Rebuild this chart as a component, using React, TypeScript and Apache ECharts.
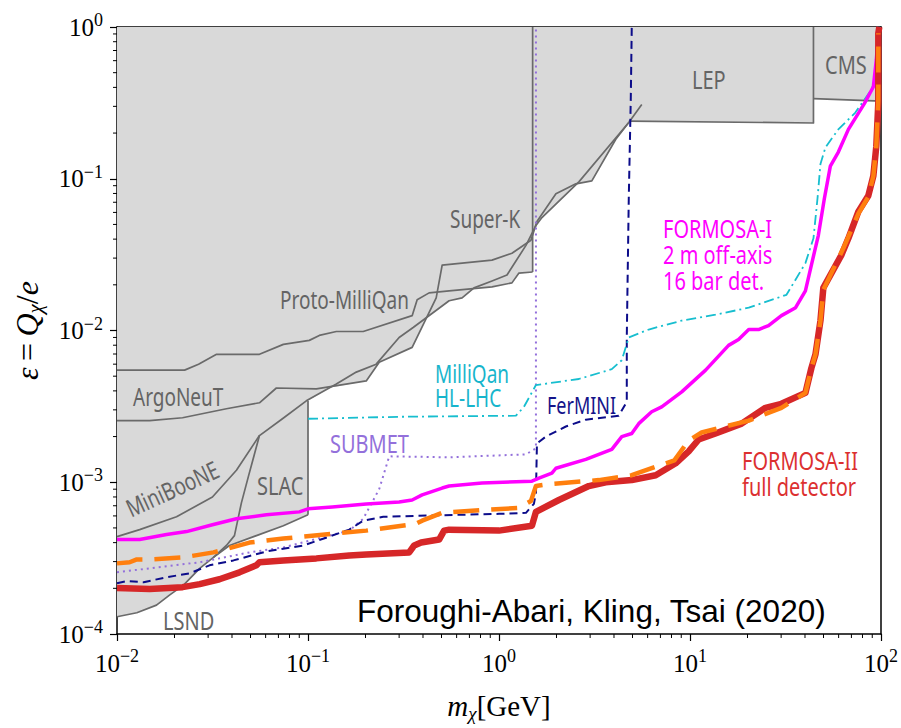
import React, { useEffect, useRef } from "react";
import * as echarts from "echarts";

// ---- data (mass m_chi in GeV, epsilon) ----
const LSND_M = [0.01, 0.0127, 0.0161, 0.0189, 0.0223, 0.0271, 0.032, 0.0388, 0.0537, 0.0743, 0.1];
const LSND_E = [1.3e-4, 1.38e-4, 1.55e-4, 1.81e-4, 2.1e-4, 2.71e-4, 3.2e-4, 3.83e-4, 4.45e-4, 5.17e-4, 6.1e-4];

const SLAC_LEFT_M = [0.032, 0.0374, 0.0412, 0.0448, 0.0488, 0.0557];
const SLAC_LEFT_E = [3.2e-4, 3.83e-4, 4.45e-4, 7.31e-4, 1.097e-3, 2.03e-3];
const SLAC_RIGHT_M = [0.1, 0.1];
const SLAC_RIGHT_E = [6.1e-4, 3.44e-3];

const MINIBOONE_M = [0.01, 0.01314, 0.0205, 0.0316, 0.0422, 0.0557, 0.0735, 0.098, 0.1407, 0.179, 0.2276, 0.3, 0.3553, 0.548, 0.641, 0.74, 0.919, 1.101, 1.384, 1.561, 1.678, 2.619, 4.78];
const MINIBOONE_E = [4.385e-4, 4.87e-4, 5.92e-4, 8.0e-4, 1.2e-3, 2.03e-3, 2.62e-3, 3.44e-3, 4.44e-3, 5.32e-3, 6.0e-3, 9.0e-3, 1.046e-2, 1.57e-2, 1.64e-2, 1.91e-2, 2.12e-2, 2.32e-2, 3.64e-2, 4.92e-2, 5.55e-2, 9.54e-2, 0.235];

const ARGONEUT_M = [0.01, 0.01482, 0.02204, 0.0374, 0.0557, 0.0683, 0.1106, 0.2018, 0.236, 0.351, 0.469, 0.504, 0.919, 1.169, 1.47, 1.58, 1.986, 2.526, 3.062, 4.088, 4.78, 5.59];
const ARGONEUT_E = [2.55e-3, 2.55e-3, 2.66e-3, 3.05e-3, 3.34e-3, 4.18e-3, 4.12e-3, 4.65e-3, 6.18e-3, 7.74e-3, 1.64e-2, 2.7e-2, 2.91e-2, 3.23e-2, 3.93e-2, 5.23e-2, 7.96e-2, 9.26e-2, 9.68e-2, 0.182, 0.235, 0.308];

const PROTO_M = [0.01, 0.02259, 0.02673, 0.0332, 0.0557, 0.0743, 0.1016, 0.1146, 0.1407, 0.1946, 0.351, 0.3728, 0.4306, 0.548, 0.919, 1.169, 1.272, 1.5];
const PROTO_E = [5.48e-3, 5.48e-3, 6.0e-3, 6.97e-3, 6.97e-3, 8.1e-3, 8.61e-3, 9.28e-3, 9.85e-3, 9.85e-3, 1.253e-2, 1.594e-2, 1.77e-2, 1.825e-2, 1.94e-2, 2.06e-2, 2.39e-2, 2.43e-2];

const SUPERK_M = [1.5, 1.5];
const SUPERK_E = [2.43e-2, 1.0];

const LEP_M = [4.78, 44.3, 44.3];
const LEP_E = [0.24, 0.233, 1.0];

const CMS_M = [44.3, 100];
const CMS_E = [0.337, 0.325];

// lower edge of the excluded (grey) region
const EXCL_M = [0.01, 0.0127, 0.0161, 0.0189, 0.0223, 0.0271, 0.032, 0.0388, 0.0537, 0.0743, 0.1, 0.1, 0.13, 0.2018, 0.236, 0.351, 0.4155, 0.548, 0.641, 0.74, 0.919, 1.169, 1.272, 1.5, 1.5, 1.561, 1.678, 2.466, 2.526, 3.062, 4.088, 4.78, 44.3, 44.3, 100];
const EXCL_E = [1.3e-4, 1.38e-4, 1.55e-4, 1.81e-4, 2.1e-4, 2.71e-4, 3.2e-4, 3.83e-4, 4.45e-4, 5.17e-4, 6.1e-4, 3.44e-3, 4.2e-3, 4.65e-3, 6.18e-3, 7.74e-3, 1.216e-2, 1.57e-2, 1.64e-2, 1.91e-2, 1.94e-2, 2.06e-2, 2.39e-2, 2.43e-2, 4.3e-2, 4.92e-2, 5.55e-2, 8.85e-2, 9.26e-2, 9.68e-2, 0.182, 0.24, 0.233, 0.337, 0.325];

const MILLIQAN_M = [0.1, 0.3, 1.227, 1.351, 1.561, 2.619, 3.895, 4.394, 4.78, 6.08, 9.05, 11.1, 13.6, 20.3, 32.0, 40.2, 44.3, 46.5, 48.2, 51.2, 59.8, 73.4, 89.0, 96.8];
const MILLIQAN_E = [2.62e-3, 2.7e-3, 2.745e-3, 3.14e-3, 4.37e-3, 4.79e-3, 5.56e-3, 6.37e-3, 9.0e-3, 1.015e-2, 1.162e-2, 1.216e-2, 1.272e-2, 1.413e-2, 1.718e-2, 2.78e-2, 4.05e-2, 7.39e-2, 0.125, 0.161, 0.2116, 0.273, 0.386, 0.506];

const SUBMET_M = [0.01, 0.01482, 0.0271, 0.0494, 0.0743, 0.1293, 0.1644, 0.1946, 0.236, 0.2662, 0.548, 1.384, 1.561, 1.561];
const SUBMET_E = [2.55e-4, 2.71e-4, 2.97e-4, 3.45e-4, 3.72e-4, 4.45e-4, 4.8e-4, 5.75e-4, 9.02e-4, 1.482e-3, 1.46e-3, 1.527e-3, 1.671e-3, 1.0];

const FERMINI_M = [0.01, 0.01124, 0.01379, 0.01819, 0.02399, 0.03052, 0.0407, 0.0606, 0.0946, 0.1293, 0.1644, 0.1946, 0.2476, 0.3684, 1.0, 1.384, 1.523, 1.561, 1.58, 1.76, 2.239, 2.849, 4.237, 4.667, 4.667, 4.78, 4.896, 4.955];
const FERMINI_E = [2.163e-4, 2.23e-4, 2.195e-4, 2.366e-4, 2.51e-4, 2.835e-4, 3.055e-4, 3.5e-4, 3.83e-4, 4.385e-4, 4.87e-4, 5.58e-4, 5.92e-4, 6.01e-4, 6.19e-4, 6.29e-4, 7.2e-4, 8.49e-4, 1.8e-3, 2.0e-3, 2.33e-3, 2.585e-3, 2.745e-3, 3.39e-3, 9.0e-3, 7.39e-2, 0.332, 1.0];

const FORMOSA1_M = [0.01, 0.01314, 0.01819, 0.02313, 0.0316, 0.0422, 0.0606, 0.0901, 0.1, 0.134, 0.2018, 0.3, 0.351, 0.396, 0.504, 0.548, 0.815, 1.488, 1.618, 1.892, 1.986, 2.849, 3.895, 4.394, 4.955, 5.39, 6.3, 7.11, 9.05, 12.07, 15.92, 17.96, 20.3, 22.85, 25.77, 30.1, 35.7, 40.2, 43.2, 47.0, 50.5, 54.3, 59.8, 67.5, 81.8, 91.2, 94.5, 96.8, 97.5];
const FORMOSA1_E = [4.19e-4, 4.19e-4, 4.52e-4, 4.73e-4, 5.25e-4, 5.75e-4, 6.1e-4, 6.38e-4, 6.68e-4, 6.88e-4, 7.2e-4, 7.42e-4, 7.64e-4, 8.25e-4, 9.16e-4, 9.44e-4, 9.87e-4, 1.017e-3, 1.064e-3, 1.147e-3, 1.237e-3, 1.416e-3, 1.646e-3, 2.0e-3, 2.094e-3, 2.433e-3, 2.915e-3, 3.14e-3, 3.94e-3, 5.48e-3, 7.98e-3, 8.73e-3, 1.015e-2, 1.015e-2, 1.078e-2, 1.253e-2, 1.413e-2, 1.825e-2, 2.7e-2, 4.24e-2, 7.39e-2, 0.121, 0.15, 0.2116, 0.313, 0.404, 0.606, 0.91, 1.0];

const FORMOSA2_M = [0.01, 0.01482, 0.02204, 0.0271, 0.0344, 0.0438, 0.0537, 0.0557, 0.0743, 0.1106, 0.1644, 0.2018, 0.3386, 0.3596, 0.3912, 0.4858, 0.516, 0.548, 1.0, 1.488, 1.561, 2.059, 2.953, 3.624, 4.955, 6.614, 8.414, 9.84, 11.1, 13.6, 18.62, 24.85, 30.1, 40.2, 43.2, 45.4, 48.2, 49.9, 62.0, 67.5, 76.1, 85.8, 91.2, 94.5, 96.8, 96.8, 98.0];
const FORMOSA2_E = [2.006e-4, 1.976e-4, 2.036e-4, 2.13e-4, 2.296e-4, 2.55e-4, 2.835e-4, 2.97e-4, 3.055e-4, 3.15e-4, 3.295e-4, 3.345e-4, 3.45e-4, 3.83e-4, 4.005e-4, 4.19e-4, 4.8e-4, 4.87e-4, 4.8e-4, 5.17e-4, 6.38e-4, 7.64e-4, 9.44e-4, 1.0e-3, 1.033e-3, 1.113e-3, 1.334e-3, 1.597e-3, 1.913e-3, 2.094e-3, 2.433e-3, 3.095e-3, 3.288e-3, 3.88e-3, 5.65e-3, 6.97e-3, 1.162e-2, 1.91e-2, 3.135e-2, 4.05e-2, 6.07e-2, 7.73e-2, 0.1044, 0.1638, 0.3177, 0.91, 1.0];

const FORMOSA2_ALT_M = [0.01, 0.01165, 0.0127, 0.01482, 0.0223, 0.032, 0.0494, 0.0743, 0.1357, 0.2018, 0.3684, 0.396, 0.504, 0.855, 1.272, 1.47, 1.561, 1.825, 3.33, 4.955, 8.28, 9.84, 11.5, 20.3, 30.1, 40.2, 43.2, 45.4, 48.2, 49.9, 63.5, 76.1, 85.8, 91.2, 94.5, 96.8, 96.8];
const FORMOSA2_ALT_E = [2.92e-4, 2.97e-4, 3.1e-4, 3.1e-4, 3.2e-4, 3.45e-4, 4.005e-4, 4.255e-4, 4.585e-4, 4.8e-4, 5.33e-4, 5.58e-4, 6.29e-4, 6.58e-4, 6.78e-4, 7.53e-4, 9.44e-4, 9.72e-4, 1.033e-3, 1.113e-3, 1.395e-3, 1.885e-3, 2.126e-3, 2.55e-3, 3.095e-3, 3.88e-3, 5.65e-3, 6.97e-3, 1.162e-2, 1.853e-2, 3.48e-2, 5.89e-2, 7.61e-2, 0.1044, 0.1638, 0.332, 0.91];

const X_MIN = 0.01, X_MAX = 100, Y_MIN = 1e-4, Y_MAX = 1;

const zip = (m: number[], e: number[]) => m.map((v, i) => [v, e[i]]);

const GREY_LINE = "#6a6a6a";
const GREY_FILL = "#d9d9d9";
const GREY_TEXT = "#646464";

function line(name: string, m: number[], e: number[], color: string, width: number, type: any, z = 3): any {
  return {
    name,
    type: "line",
    data: zip(m, e),
    symbol: "none",
    silent: true,
    z,
    lineStyle: { color, width, type, cap: "butt", join: "round" },
  };
}

function minorValues(lo: number, hi: number) {
  const out: number[] = [];
  for (let d = lo; d < hi; d++) {
    for (let k = 2; k <= 9; k++) out.push(k * Math.pow(10, d));
  }
  return out;
}

const supLabel = (v: number) => {
  const p = Math.round(Math.log10(v));
  const s = p < 0 ? "\u2212" + -p : String(p);
  return `{b|10}{e|${s}}`;
};

const tickRich = {
  b: { fontFamily: "Liberation Serif", fontSize: 25, color: "#000", lineHeight: 32 },
  e: { fontFamily: "Liberation Serif", fontSize: 18, color: "#000", lineHeight: 18, verticalAlign: "top" },
};

function label(text: string, x: number, y: number, fill: string, fontSize = 19, extra: any = {}) {
  return {
    type: "text",
    x,
    y,
    scaleY: 1.3,
    z: 100,
    silent: true,
    style: {
      text,
      fill,
      fontSize,
      fontFamily: "Noto Sans",
      align: "left",
      verticalAlign: "middle",
    },
    ...extra,
  };
}

export default function App() {
  const ref = useRef<HTMLDivElement>(null);
  useEffect(() => {
    const chart = echarts.init(ref.current!, null, { renderer: "svg" });
    const minorX = minorValues(-2, 2);
    const minorY = minorValues(-4, 0);
    const option: any = {
      animation: false,
      backgroundColor: "#fff",
      grid: { left: 117, top: 27, width: 766, height: 612, show: false },
      xAxis: [
        {
          type: "log",
          logBase: 10,
          min: X_MIN,
          max: X_MAX,
          position: "bottom",
          axisLine: { show: true, lineStyle: { color: "#000", width: 1.5 } },
          axisTick: { show: true, inside: false, length: 7, lineStyle: { color: "#000", width: 1.2 } },
          minorTick: { show: false },
          splitLine: { show: false },
          axisLabel: { formatter: supLabel, margin: 13, rich: tickRich },
          name: "{g|m}{s|\u03c7}{n|[GeV]}",
          nameLocation: "middle",
          nameGap: 55,
          nameTextStyle: {
            rich: {
              g: { fontFamily: "Liberation Serif", fontStyle: "italic", fontSize: 29, color: "#000", lineHeight: 34 },
              s: { fontFamily: "Liberation Serif", fontStyle: "italic", fontSize: 19, color: "#000", lineHeight: 20, verticalAlign: "bottom" },
              n: { fontFamily: "Liberation Serif", fontSize: 29, color: "#000", lineHeight: 34 },
            },
          },
        },
        {
          type: "log",
          min: X_MIN,
          max: X_MAX,
          position: "top",
          axisLine: { show: true, lineStyle: { color: "#000", width: 1.5 } },
          axisTick: { show: false },
          axisLabel: { show: false },
          splitLine: { show: false },
        },
      ],
      yAxis: [
        {
          type: "log",
          logBase: 10,
          min: Y_MIN,
          max: Y_MAX,
          position: "left",
          axisLine: { show: true, lineStyle: { color: "#000", width: 1.5 } },
          axisTick: { show: true, inside: false, length: 7, lineStyle: { color: "#000", width: 1.2 } },
          minorTick: { show: false },
          splitLine: { show: false },
          axisLabel: { formatter: supLabel, margin: 14, rich: tickRich },
          name: "{g|\u03b5}{n|\u2009=\u2009}{g|Q}{s|\u03c7}{n|/}{g|e}",
          nameLocation: "middle",
          nameRotate: 90,
          nameGap: 72,
          nameTextStyle: {
            rich: {
              g: { fontFamily: "Liberation Serif", fontStyle: "italic", fontSize: 32, color: "#000", lineHeight: 36 },
              s: { fontFamily: "Liberation Serif", fontStyle: "italic", fontSize: 21, color: "#000", lineHeight: 22, verticalAlign: "bottom" },
              n: { fontFamily: "Liberation Serif", fontSize: 32, color: "#000", lineHeight: 36 },
            },
          },
        },
        {
          type: "log",
          min: Y_MIN,
          max: Y_MAX,
          position: "right",
          axisLine: { show: true, lineStyle: { color: "#000", width: 1.5 } },
          axisTick: { show: false },
          axisLabel: { show: false },
          splitLine: { show: false },
        },
      ],
      series: [
        {
          name: "excluded",
          type: "line",
          data: zip(EXCL_M, EXCL_E),
          symbol: "none",
          silent: true,
          z: 1,
          lineStyle: { width: 0, opacity: 0 },
          areaStyle: { origin: "end", color: GREY_FILL, opacity: 1 },
        },
        line("LSND", LSND_M, LSND_E, GREY_LINE, 1.7, "solid", 2),
        line("SLAC", SLAC_LEFT_M, SLAC_LEFT_E, GREY_LINE, 1.7, "solid", 2),
        line("SLAC edge", SLAC_RIGHT_M, SLAC_RIGHT_E, GREY_LINE, 1.7, "solid", 2),
        line("MiniBooNE", MINIBOONE_M, MINIBOONE_E, GREY_LINE, 1.7, "solid", 2),
        line("ArgoNeuT", ARGONEUT_M, ARGONEUT_E, GREY_LINE, 1.7, "solid", 2),
        line("Proto-MilliQan", PROTO_M, PROTO_E, GREY_LINE, 1.7, "solid", 2),
        line("Super-K", SUPERK_M, SUPERK_E, GREY_LINE, 1.7, "solid", 2),
        line("LEP", LEP_M, LEP_E, GREY_LINE, 1.7, "solid", 2),
        line("CMS", CMS_M, CMS_E, GREY_LINE, 1.7, "solid", 2),
        line("SUBMET", SUBMET_M, SUBMET_E, "#9370db", 2, [2, 4], 3),
        line("FerMINI", FERMINI_M, FERMINI_E, "#0c0c8a", 2, [8, 5], 3),
        line("MilliQan HL-LHC", MILLIQAN_M, MILLIQAN_E, "#17becf", 1.8, [10, 4, 2, 4], 3),
        line("FORMOSA-I", FORMOSA1_M, FORMOSA1_E, "#ff00ff", 3.5, "solid", 4),
        line("FORMOSA-II", FORMOSA2_M, FORMOSA2_E, "#d62728", 6.5, "solid", 5),
        line("FORMOSA-II alt", FORMOSA2_ALT_M, FORMOSA2_ALT_E, "#ff7f0e", 4.5, [26, 12], 6),
        {
          type: "custom",
          silent: true,
          clip: false,
          z: 10,
          data: minorX.map((v) => [v, Y_MIN]),
          renderItem: (_p: any, api: any) => {
            const pt = api.coord([api.value(0), Y_MIN]);
            return {
              type: "line",
              shape: { x1: pt[0], y1: pt[1], x2: pt[0], y2: pt[1] + 4 },
              style: { stroke: "#000", lineWidth: 1 },
            };
          },
        },
        {
          type: "custom",
          silent: true,
          clip: false,
          z: 10,
          data: minorY.map((v) => [X_MIN, v]),
          renderItem: (_p: any, api: any) => {
            const pt = api.coord([X_MIN, api.value(1)]);
            return {
              type: "line",
              shape: { x1: pt[0] - 4, y1: pt[1], x2: pt[0], y2: pt[1] },
              style: { stroke: "#000", lineWidth: 1 },
            };
          },
        },
      ],
      graphic: [
        label("Proto-MilliQan", 280, 299, GREY_TEXT),
        label("ArgoNeuT", 133, 396, GREY_TEXT),
        label("MiniBooNE", 172, 488, GREY_TEXT, 19, { rotation: 0.43, style: { text: "MiniBooNE", fill: GREY_TEXT, fontSize: 19, fontFamily: "Noto Sans", align: "center", verticalAlign: "middle" } }),
        label("SLAC", 257, 485, GREY_TEXT, 20),
        label("LSND", 163, 620, GREY_TEXT, 20),
        label("Super-K", 450, 218, GREY_TEXT),
        label("LEP", 692, 79, GREY_TEXT, 20),
        label("CMS", 825, 64, GREY_TEXT, 20),
        label("MilliQan", 435, 373, "#17b5cc"),
        label("HL-LHC", 435, 397, "#17b5cc"),
        label("SUBMET", 330, 443, "#9370db", 20),
        label("FerMINI", 547, 405, "#14148a", 18),
        label("FORMOSA-I", 663, 228, "#ff00ff", 20),
        label("2 m off-axis", 663, 254, "#ff00ff", 20),
        label("16 bar det.", 663, 280, "#ff00ff", 20),
        label("FORMOSA-II", 742, 460, "#dc3030", 20),
        label("full detector", 742, 486, "#dc3030", 20),
        {
          type: "text",
          x: 357,
          y: 611,
          z: 100,
          silent: true,
          style: {
            text: "Foroughi-Abari, Kling, Tsai (2020)",
            fill: "#000",
            fontSize: 31.5,
            fontFamily: "Liberation Sans",
            align: "left",
            verticalAlign: "middle",
          },
        },
      ],
    };
    chart.setOption(option);
    return () => chart.dispose();
  }, []);
  return (
    <div
      ref={ref}
      style={{ position: "fixed", left: 0, top: 0, width: 901, height: 728, background: "#fff" }}
    />
  );
}
